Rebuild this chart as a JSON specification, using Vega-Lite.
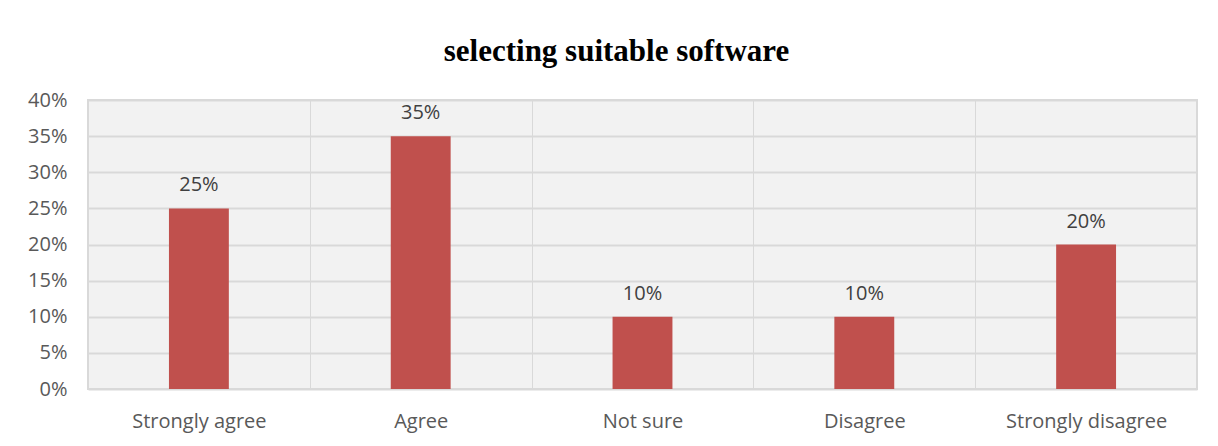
{
  "$schema": "https://vega.github.io/schema/vega-lite/v6.json",
  "width": 1109,
  "height": 289,
  "autosize": {"type": "none"},
  "padding": {"left": 88, "top": 100, "right": 21, "bottom": 57},
  "background": "white",
  "title": {
    "text": "selecting suitable software",
    "font": "Liberation Serif",
    "fontSize": 31,
    "fontWeight": "bold",
    "color": "#000000",
    "anchor": "middle",
    "dx": -26,
    "offset": 22
  },
  "data": {
    "values": [
      {"response": "Strongly agree", "pct": 0.25},
      {"response": "Agree", "pct": 0.35},
      {"response": "Not sure", "pct": 0.10},
      {"response": "Disagree", "pct": 0.10},
      {"response": "Strongly disagree", "pct": 0.20}
    ]
  },
  "encoding": {
    "x": {
      "field": "response",
      "type": "nominal",
      "sort": null,
      "scale": {"paddingInner": 0, "paddingOuter": 0},
      "axis": {
        "title": null,
        "labelAngle": 0,
        "labelFont": "Open Sans",
        "labelFontSize": 20,
        "labelColor": "#595959",
        "labelPadding": 22,
        "ticks": false,
        "domain": false,
        "grid": true,
        "tickBand": "extent",
        "gridColor": "#d9d9d9",
        "gridWidth": 1
      }
    },
    "y": {
      "field": "pct",
      "type": "quantitative",
      "scale": {"domain": [0, 0.4]},
      "axis": {
        "title": null,
        "format": ".0%",
        "values": [0, 0.05, 0.1, 0.15, 0.2, 0.25, 0.3, 0.35, 0.4],
        "labelFont": "Open Sans",
        "labelFontSize": 20,
        "labelColor": "#595959",
        "labelPadding": 21,
        "ticks": false,
        "domain": false,
        "grid": true,
        "gridColor": "#d9d9d9",
        "gridWidth": 2
      }
    }
  },
  "layer": [
    {"mark": {"type": "bar", "color": "#C0504D", "width": {"band": 0.27}}},
    {
      "mark": {"type": "text", "dy": -13, "font": "Open Sans", "fontSize": 20, "color": "#404040", "baseline": "bottom"},
      "encoding": {"text": {"field": "pct", "type": "quantitative", "format": ".0%"}}
    }
  ],
  "config": {
    "view": {"fill": "#f2f2f2", "stroke": "#d9d9d9", "strokeWidth": 2}
  }
}
